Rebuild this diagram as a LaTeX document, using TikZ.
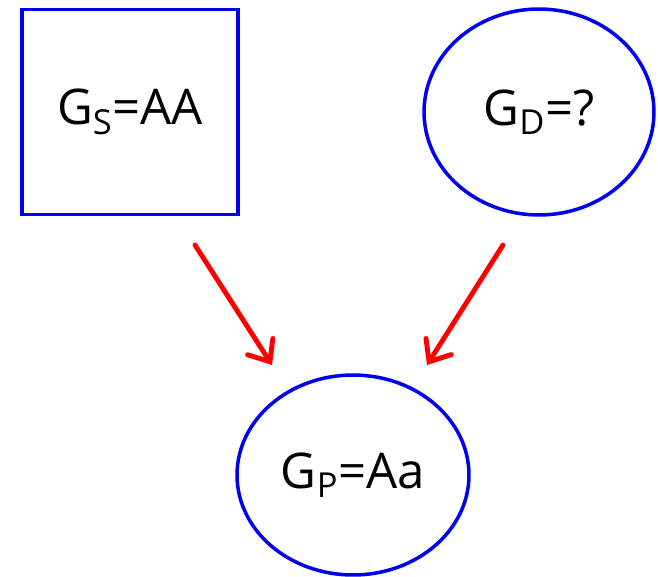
\documentclass[tikz,border=0pt]{standalone}
\usepackage{fontspec}
\setmainfont{Open Sans}
\usepackage{tikz}
\usetikzlibrary{shapes.geometric, arrows.meta, positioning}
\definecolor{gblue}{HTML}{0000EE}
\definecolor{gred}{HTML}{FF0000}

\begin{document}
\begin{tikzpicture}[x=0.02cm, y=-0.02cm,
    geno/.style={draw=gblue, line width=2pt, inner sep=0pt,
                 font=\fontsize{28}{34}\selectfont},
    sire/.style={geno, rectangle, minimum width=4.32cm, minimum height=4.1cm},
    dam/.style={geno, ellipse, minimum width=#1},
    arrow/.style={-{Straight Barb[length=3.6mm, width=6mm, line cap=round]},
                  line width=2.8pt, color=gred, line cap=round}
]
\useasboundingbox (0,0) rectangle (658,577);

\node[sire] (S) at (130,112) {G\textsubscript{S}=AA};
\node[dam=4.6cm, minimum height=4.12cm] (D) at (539,112) {G\textsubscript{D}=?};
\node[dam=4.64cm, minimum height=4cm] (P) at (353,475) {G\textsubscript{P}=Aa};

% arrows leave a gap to the nodes
\coordinate (s1) at (195,245);
\coordinate (s2) at (272,365);
\coordinate (d1) at (503,245);
\coordinate (d2) at (427,365);
\draw[arrow] (s1) -- (s2);
\draw[arrow] (d1) -- (d2);
\end{tikzpicture}
\end{document}
